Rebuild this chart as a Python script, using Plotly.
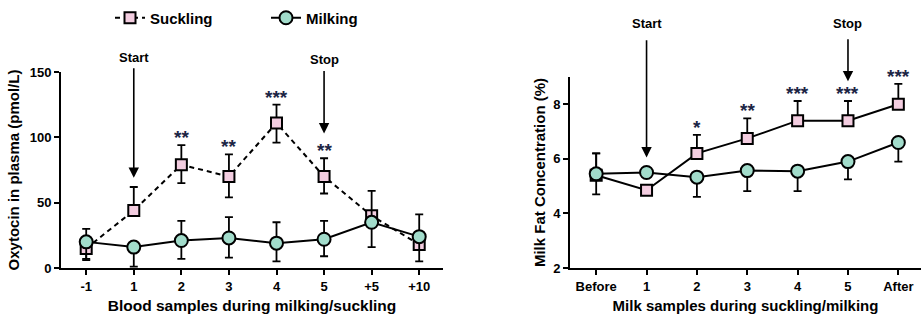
import plotly.graph_objects as go

# ---- data ----
blood_cats = ["-1", "1", "2", "3", "4", "5", "+5", "+10"]
oxy_suckling = [15, 44, 79, 70, 111, 70, 40, 18]
oxy_suckling_up = [8, 18, 15, 17, 14, 14, 0, 0]
oxy_suckling_dn = [9, 0, 14, 16, 15, 13, 0, 0]
oxy_milking = [20, 16, 21, 23, 19, 22, 35, 24]
oxy_milking_up = [10, 0, 15, 16, 16, 14, 24, 17]
oxy_milking_dn = [13, 15, 14, 15, 14, 13, 19, 19]
oxy_stars = ["", "", "**", "**", "***", "**", "", ""]

milk_cats = ["Before", "1", "2", "3", "4", "5", "After"]
fat_suckling = [5.4, 4.85, 6.2, 6.75, 7.4, 7.4, 8.0]
fat_suckling_up = [0.8, 0, 0.68, 0.73, 0.72, 0.72, 0.75]
fat_milking = [5.45, 5.5, 5.33, 5.57, 5.55, 5.9, 6.6]
fat_milking_dn = [0.75, 0, 0.72, 0.75, 0.73, 0.65, 0.7]
fat_stars = ["", "", "*", "**", "***", "***", "***"]

FONT = "Arial, Liberation Sans, sans-serif"
PINK = "#f3cde0"
TEAL = "#a2dccb"

fig = go.Figure()

sq = dict(symbol="square", size=11, color=PINK, line=dict(color="black", width=2))
ci = dict(symbol="circle", size=13, color=TEAL, line=dict(color="black", width=2))
err = dict(type="data", symmetric=False, color="black", thickness=1.8, width=4)

# left panel
fig.add_trace(go.Scatter(
    x=blood_cats, y=oxy_suckling, mode="lines+markers", name="Suckling",
    line=dict(color="black", width=2, dash="5px,4px"), marker=sq,
    error_y=dict(err, array=oxy_suckling_up, arrayminus=oxy_suckling_dn),
    xaxis="x", yaxis="y", legend="legend", cliponaxis=False))
fig.add_trace(go.Scatter(
    x=blood_cats, y=oxy_milking, mode="lines+markers", name="Milking",
    line=dict(color="black", width=2), marker=ci,
    error_y=dict(err, array=oxy_milking_up, arrayminus=oxy_milking_dn),
    xaxis="x", yaxis="y", legend="legend2", cliponaxis=False))

# right panel
fig.add_trace(go.Scatter(
    x=milk_cats, y=fat_suckling, mode="lines+markers", name="Suckling",
    line=dict(color="black", width=2), marker=sq, showlegend=False,
    error_y=dict(err, array=fat_suckling_up, arrayminus=[0]*7),
    xaxis="x2", yaxis="y2", cliponaxis=False))
fig.add_trace(go.Scatter(
    x=milk_cats, y=fat_milking, mode="lines+markers", name="Milking",
    line=dict(color="black", width=2), marker=ci, showlegend=False,
    error_y=dict(err, array=[0.75] + [0]*6, arrayminus=fat_milking_dn),
    xaxis="x2", yaxis="y2", cliponaxis=False))

STAR_FONT = dict(size=19, family=FONT, color="#1c2545", weight="bold")
ann = []
for c, v, u, s in zip(blood_cats, oxy_suckling, oxy_suckling_up, oxy_stars):
    if s:
        ann.append(dict(x=c, y=v + u, xref="x", yref="y", text=s, showarrow=False,
                        yanchor="bottom", yshift=-5, font=STAR_FONT))
for c, v, u, s in zip(milk_cats, fat_suckling, fat_suckling_up, fat_stars):
    if s:
        ann.append(dict(x=c, y=v + u, xref="x2", yref="y2", text=s, showarrow=False,
                        yanchor="bottom", yshift=-5, font=STAR_FONT))

def arrow(xr, yr, xc, tail, tip, label, lab_y):
    ann.append(dict(x=xc, y=tip, ax=xc, ay=tail, xref=xr, yref=yr, axref=xr, ayref=yr,
                    text="", showarrow=True, arrowhead=2, arrowsize=1.3, arrowwidth=1.6,
                    arrowcolor="black", standoff=0, startstandoff=0))
    ann.append(dict(x=xc, y=lab_y, xref=xr, yref="paper", text=label, showarrow=False,
                    yanchor="middle",
                    font=dict(size=13, family=FONT, color="black", weight="bold")))

arrow("x", "y", "1", 154, 69, "Start", 1 - 57/315)
arrow("x", "y", "5", 152, 103, "Stop", 1 - 59/315)
arrow("x2", "y2", "1", 10.4, 6.05, "Start", 1 - 24/315)
arrow("x2", "y2", "5", 10.44, 8.84, "Stop", 1 - 24/315)

axis_common = dict(showline=True, linecolor="black", linewidth=2, ticks="outside",
                   ticklen=5, tickwidth=2, tickcolor="black", showgrid=False, zeroline=False,
                   automargin=False,
                   tickfont=dict(size=13, family=FONT, color="black", weight="bold"))
title_font = dict(size=15, family=FONT, color="black", weight="bold")

fig.update_layout(
    template="none",
    width=922, height=315, margin=dict(l=0, r=0, t=0, b=0),
    paper_bgcolor="white", plot_bgcolor="white",
    font=dict(family=FONT, color="black"),
    xaxis=dict(axis_common, domain=[61/922, 443/922], range=[-0.53, 7.5], type="category",
               anchor="y", title=dict(text="Blood samples during milking/suckling",
                                      font=dict(title_font, size=15.5), standoff=8)),
    yaxis=dict(axis_common, domain=[1-268/315, 1-72/315], range=[0, 150],
               tickvals=[0, 50, 100, 150], anchor="x",
               title=dict(text="Oxytocin in plasma (pmol/L)", font=title_font, standoff=6)),
    xaxis2=dict(axis_common, domain=[570/922, 921/922], range=[-0.52, 6.45], type="category",
                anchor="y2", title=dict(text="Milk samples during suckling/milking",
                                        font=title_font, standoff=8)),
    yaxis2=dict(axis_common, domain=[1-268/315, 1-77/315], range=[2, 9],
                tickvals=[2, 4, 6, 8], anchor="x2",
                title=dict(text="Milk Fat Concentration (%)", font=title_font, standoff=4)),
    legend=dict(orientation="h", x=110/922, xanchor="left", y=1-18/315, yanchor="middle",
                font=dict(size=15, family=FONT, color="black", weight="bold"),
                itemwidth=30, bgcolor="rgba(0,0,0,0)"),
    legend2=dict(orientation="h", x=266/922, xanchor="left", y=1-18/315, yanchor="middle",
                 font=dict(size=15, family=FONT, color="black", weight="bold"),
                 itemwidth=30, bgcolor="rgba(0,0,0,0)"),
    annotations=ann,
)

fig.write_html("out.html", config={"displayModeBar": False},
               post_script="document.body.style.margin='0';")
